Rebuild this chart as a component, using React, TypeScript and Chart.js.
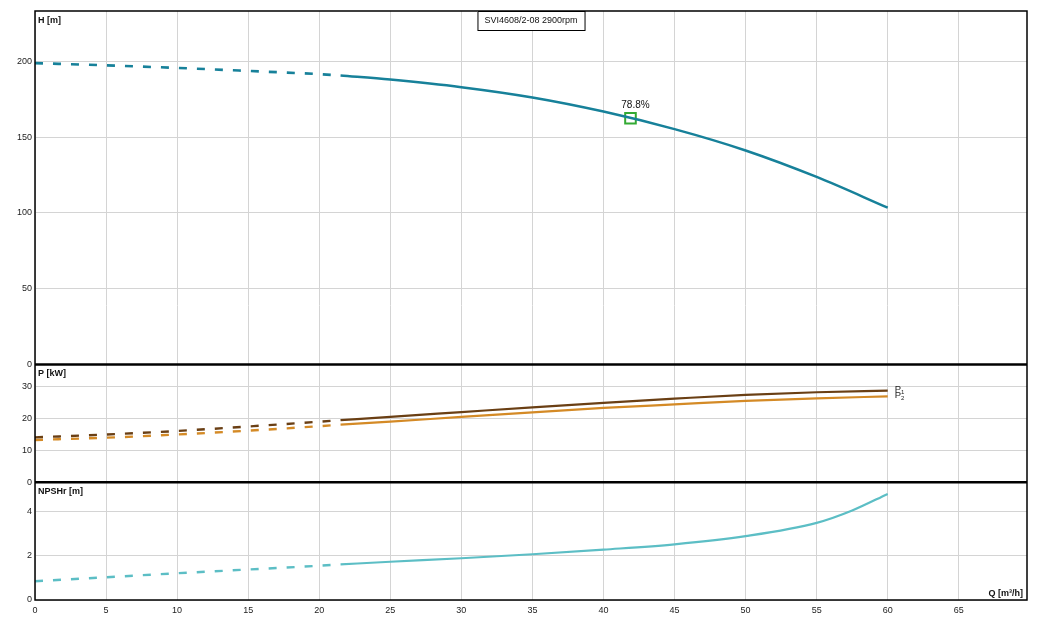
import React, { useEffect, useRef } from "react";
import { Chart, registerables } from "chart.js";

Chart.register(...registerables);

// ---- data ----
const qDashed = [0, 5, 10, 15, 20, 21.5];
const qSolid = [21.5, 25, 30, 35, 40, 45, 50, 55, 60];
const qNpshSolid = [21.5, 25, 30, 35, 40, 45, 50, 55, 57.5, 60];

const hDashed = [199, 197.5, 195.8, 193.8, 191.7, 190.8];
const hSolid = [190.8, 188.1, 183.1, 176.3, 167.0, 155.4, 141.3, 123.8, 103.5];

const p1Dashed = [14.0, 14.9, 16.0, 17.4, 18.9, 19.4];
const p1Solid = [19.4, 20.4, 21.9, 23.4, 24.8, 26.1, 27.3, 28.1, 28.6];
const p2Dashed = [13.2, 13.9, 14.9, 16.1, 17.5, 18.0];
const p2Solid = [18.0, 18.9, 20.4, 21.8, 23.2, 24.3, 25.4, 26.2, 26.8];

const npshDashed = [0.85, 1.03, 1.21, 1.38, 1.55, 1.61];
const npshSolid = [1.61, 1.73, 1.89, 2.07, 2.28, 2.52, 2.89, 3.49, 4.05, 4.8];

const bepQ = [41.9];
const bepH = [162.6];
const bepLabel = "78.8%";

const chartTitle = "SVI4608/2-08 2900rpm";
const panelTitles = ["H [m]", "P [kW]", "NPSHr [m]"];
const xTitle = "Q [m³/h]";
const powerLabels = ["P", "P"];
const powerSubs = ["1", "2"];

const FONT = "'Liberation Sans', Arial, sans-serif";
const C_H = "#17819a";
const C_P1 = "#6a3f14";
const C_P2 = "#d48a26";
const C_N = "#5cbec5";
const C_BEP = "#33aa33";

const pts = (xs: number[], ys: number[]) => xs.map((x, i) => ({ x, y: ys[i] }));

const overlay = {
  id: "overlay",
  afterDatasetsDraw(chart: any) {
    const { ctx, chartArea: a, scales } = chart;
    ctx.save();
    // borders
    ctx.strokeStyle = "#000";
    ctx.lineWidth = 1.5;
    ctx.strokeRect(a.left, a.top, a.right - a.left, a.bottom - a.top);
    ctx.lineWidth = 2.5;
    [scales.yH.bottom, scales.yP.bottom].forEach((y: number) => {
      ctx.beginPath();
      ctx.moveTo(a.left, y);
      ctx.lineTo(a.right, y);
      ctx.stroke();
    });

    // panel titles
    ctx.fillStyle = "#111";
    ctx.font = `bold 9px ${FONT}`;
    ctx.textAlign = "left";
    ctx.textBaseline = "middle";
    const tops = [scales.yH.top, scales.yP.top, scales.yN.top];
    panelTitles.forEach((t, i) => ctx.fillText(t, a.left + 3, tops[i] + 9.5));
    ctx.textAlign = "right";
    ctx.fillText(xTitle, a.right - 4, a.bottom - 6);

    // title box
    ctx.font = `9px ${FONT}`;
    const cx = (a.left + a.right) / 2;
    const tw = ctx.measureText(chartTitle).width + 14;
    ctx.fillStyle = "#fff";
    ctx.fillRect(cx - tw / 2, a.top, tw, 19.5);
    ctx.lineWidth = 1;
    ctx.strokeStyle = "#000";
    ctx.strokeRect(cx - tw / 2 + 0.5, a.top + 0.5, tw, 19);
    ctx.fillStyle = "#111";
    ctx.textAlign = "center";
    ctx.fillText(chartTitle, cx, a.top + 10);

    // BEP label
    const bx = scales.x.getPixelForValue(bepQ[0]);
    const by = scales.yH.getPixelForValue(bepH[0]);
    ctx.font = `10px ${FONT}`;
    ctx.fillText(bepLabel, bx + 5, by - 12.5);

    // power labels
    const ends = [p1Solid[p1Solid.length - 1], p2Solid[p2Solid.length - 1]];
    const ex = scales.x.getPixelForValue(qSolid[qSolid.length - 1]);
    ends.forEach((v, i) => {
      const y = scales.yP.getPixelForValue(v) - 1.5;
      ctx.font = `9.5px ${FONT}`;
      ctx.textAlign = "left";
      ctx.fillStyle = "#222";
      ctx.fillText(powerLabels[i], ex + 7, y);
      const w = ctx.measureText(powerLabels[i]).width;
      ctx.font = `6px ${FONT}`;
      ctx.fillText(powerSubs[i], ex + 7 + w, y + 3.5);
    });
    ctx.restore();
  },
};

export default function App() {
  const ref = useRef<HTMLCanvasElement>(null);
  useEffect(() => {
    if (!ref.current) return;
    const dash = [8, 10];
    const line = (data: any, color: string, axis: string, dashed: boolean, width = 2.2) => ({
      data,
      borderColor: color,
      backgroundColor: color,
      borderWidth: width,
      borderDash: dashed ? dash : [],
      pointRadius: 0,
      fill: false,
      cubicInterpolationMode: "monotone",
      yAxisID: axis,
    });
    const tickFont = { family: FONT, size: 9 };
    const grid = { color: "#d4d4d4", lineWidth: 1, drawTicks: false };
    const yScale = (min: number, max: number, step: number, weight: number) => ({
      type: "linear",
      position: "left",
      stack: "panels",
      stackWeight: weight === 3 ? 3 : 1,
      weight,
      min,
      max,
      grid,
      border: { display: false },
      ticks: { stepSize: step, includeBounds: false, font: tickFont, color: "#222", padding: 3 },
      afterFit: (s: any) => {
        s.width = 35;
      },
    });
    const chart = new Chart(ref.current, {
      type: "line",
      data: {
        datasets: [
          line(pts(qDashed, hDashed), C_H, "yH", true, 2.6),
          line(pts(qSolid, hSolid), C_H, "yH", false, 2.5),
          line(pts(qDashed, p1Dashed), C_P1, "yP", true, 2.4),
          line(pts(qSolid, p1Solid), C_P1, "yP", false),
          line(pts(qDashed, p2Dashed), C_P2, "yP", true, 2.4),
          line(pts(qSolid, p2Solid), C_P2, "yP", false),
          line(pts(qDashed, npshDashed), C_N, "yN", true, 2.4),
          line(pts(qNpshSolid, npshSolid), C_N, "yN", false),
          {
            data: pts(bepQ, bepH),
            yAxisID: "yH",
            showLine: false,
            pointStyle: "rect",
            pointRadius: 7.5,
            pointBorderWidth: 2,
            pointBorderColor: C_BEP,
            pointBackgroundColor: "rgba(0,0,0,0)",
            borderColor: C_BEP,
          },
        ] as any,
      },
      options: {
        animation: false,
        responsive: true,
        maintainAspectRatio: false,
        parsing: false as any,
        layout: { padding: { left: 0, right: 19, top: 11, bottom: 0 } },
        plugins: { legend: { display: false }, tooltip: { enabled: false } },
        events: [],
        scales: {
          x: {
            type: "linear",
            position: "bottom",
            min: 0,
            max: 69.8,
            grid,
            border: { display: false },
            ticks: { stepSize: 5, includeBounds: false, font: tickFont, color: "#222", padding: 5 },
            afterFit: (s: any) => {
              s.height = 23;
            },
          },
          yH: yScale(0, 233.4, 50, 3),
          yP: yScale(0, 36.8, 10, 2),
          yN: yScale(0, 5.33, 2, 1),
        } as any,
      },
      plugins: [overlay],
    });
    return () => chart.destroy();
  }, []);
  return (
    <div style={{ position: "fixed", left: 0, top: 0, width: 1046, height: 623, background: "#fff" }}>
      <canvas ref={ref} />
    </div>
  );
}
